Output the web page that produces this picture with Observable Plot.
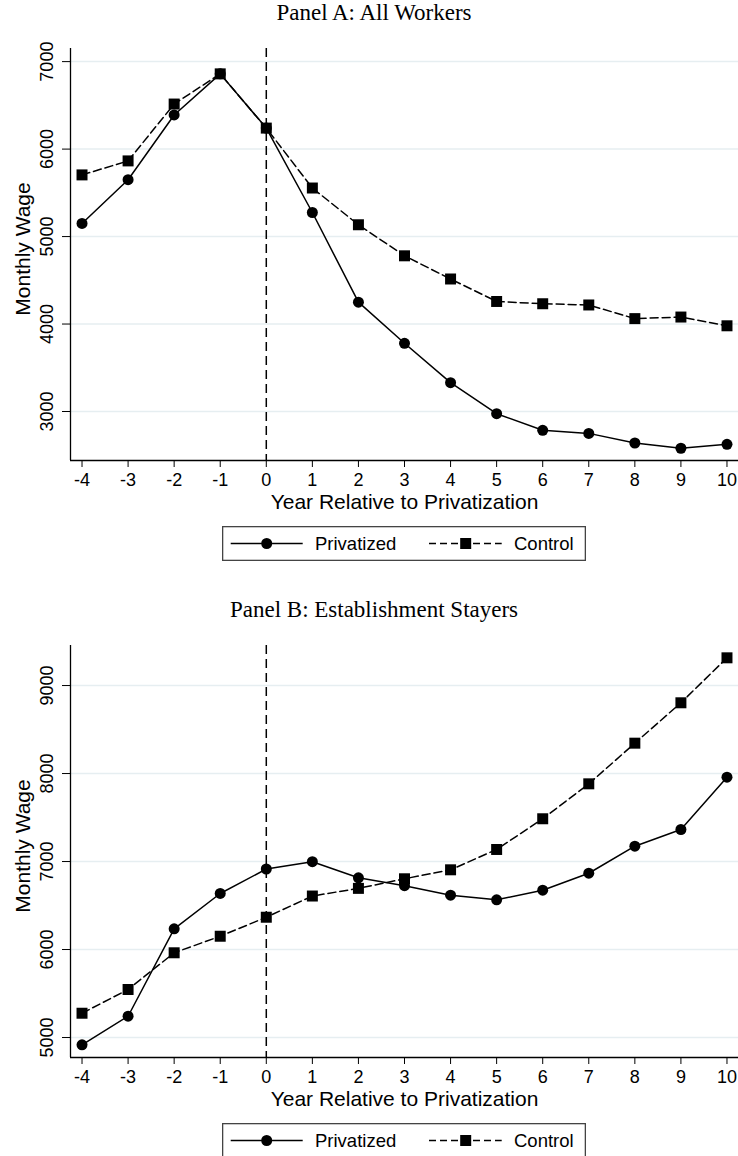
<!DOCTYPE html>
<html>
<head>
<meta charset="utf-8">
<script src="https://cdn.jsdelivr.net/npm/d3@7"></script>
<script src="https://cdn.jsdelivr.net/npm/@observablehq/plot@0.6"></script>
<style>
  html, body { margin: 0; padding: 0; background: #fff; }
  #page { position: relative; width: 738px; height: 1156px; overflow: hidden; background: #fff; }
  .panel { position: absolute; left: 0; width: 738px; height: 597px; }
  .title { position: absolute; left: 0; top: 0; width: 748px; text-align: center;
           font-family: "Liberation Serif", "Times New Roman", serif; font-size: 23px;
           line-height: 26px; color: #000; }
  .chart { position: absolute; left: 0; top: 26px; }
  .legend { position: absolute; left: 222px; top: 526px; }
</style>
</head>
<body>
<div id="page"></div>
<script>
// Years relative to privatization
const years = [-4, -3, -2, -1, 0, 1, 2, 3, 4, 5, 6, 7, 8, 9, 10];

// Panel A: all workers, mean monthly wage
const allPrivatized = [5150, 5650, 6390, 6860, 6240, 5275, 4250, 3780, 3330, 2975, 2785, 2750, 2640, 2580, 2625];
const allControl    = [5705, 5865, 6515, 6860, 6240, 5555, 5135, 4780, 4515, 4258, 4232, 4218, 4062, 4080, 3980];

// Panel B: establishment stayers, mean monthly wage
const stayPrivatized = [4917, 5242, 6235, 6637, 6915, 6998, 6815, 6725, 6617, 6565, 6674, 6867, 7174, 7364, 7958];
const stayControl    = [5276, 5546, 5963, 6151, 6367, 6608, 6695, 6804, 6906, 7137, 7486, 7883, 8345, 8804, 9315];

const panelTitles = ["Panel A: All Workers", "Panel B: Establishment Stayers"];
const seriesNames = ["Privatized", "Control"];
const xLabel = "Year Relative to Privatization";
const yLabel = "Monthly Wage";

const xTicks = years;
const allTicksY = [3000, 4000, 5000, 6000, 7000];
const stayTicksY = [5000, 6000, 7000, 8000, 9000];
const xDomain = [-4.25, 10.25];
const allDomainY = [2440, 7150];
const stayDomainY = [4773, 9455];

const panels = [
  { title: panelTitles[0], priv: allPrivatized, ctrl: allControl, ticks: allTicksY, domain: allDomainY },
  { title: panelTitles[1], priv: stayPrivatized, ctrl: stayControl, ticks: stayTicksY, domain: stayDomainY }
];

const FONT = '"Liberation Sans", Arial, Helvetica, sans-serif';
const page = document.getElementById("page");

function drawPanel(p, top) {
  const panel = document.createElement("div");
  panel.className = "panel";
  panel.style.top = top + "px";
  page.appendChild(panel);

  const title = document.createElement("div");
  title.className = "title";
  title.textContent = p.title;
  panel.appendChild(title);

  const rows = years.map((yr, i) => ({ year: yr, priv: p.priv[i], ctrl: p.ctrl[i] }));

  const chart = Plot.plot({
    width: 738,
    height: 489,
    marginTop: 22,
    marginBottom: 55,
    marginLeft: 70,
    marginRight: 0,
    style: { fontFamily: FONT, fontSize: "18px", background: "#fff", color: "#000", overflow: "visible" },
    x: { domain: xDomain },
    y: { domain: p.domain },
    marks: [
      Plot.gridY(p.ticks, { stroke: "#e6eef1", strokeOpacity: 1, strokeWidth: 1.5 }),
      Plot.ruleX([xDomain[0]], { stroke: "#000", strokeWidth: 1.3 }),
      Plot.ruleY([p.domain[0]], { stroke: "#000", strokeWidth: 1.3 }),
      Plot.ruleX([0], { stroke: "#000", strokeWidth: 1.5, strokeDasharray: "9,5" }),
      Plot.axisX({ ticks: xTicks, tickSize: 7, tickPadding: 6, tickFormat: d => String(d),
                   label: null, fontSize: 18, stroke: "#000" }),
      Plot.axisY({ ticks: p.ticks, tickSize: 8, tickPadding: 10, tickRotate: -90,
                   tickFormat: d => String(d), label: null, fontSize: 18, stroke: "#000" }),
      Plot.line(rows, { x: "year", y: "ctrl", stroke: "#000", strokeWidth: 1.5, strokeDasharray: "8,4" }),
      Plot.line(rows, { x: "year", y: "priv", stroke: "#000", strokeWidth: 1.5 }),
      Plot.dot(rows, { x: "year", y: "ctrl", symbol: "square", r: 6.2, fill: "#000" }),
      Plot.dot(rows, { x: "year", y: "priv", symbol: "circle", r: 5.5, fill: "#000" }),
      Plot.text([xLabel], { frameAnchor: "bottom", textAnchor: "middle", lineAnchor: "middle",
                            dy: 41.6, fontSize: 21, fill: "#000" }),
      Plot.text([yLabel], { frameAnchor: "left", textAnchor: "middle", lineAnchor: "middle",
                            dx: -47.5, dy: -5.5, rotate: -90, fontSize: 21, fill: "#000" })
    ]
  });
  chart.classList.add("chart");
  panel.appendChild(chart);

  // Legend box below the chart
  const holder = document.createElement("div");
  holder.className = "legend";
  panel.appendChild(holder);
  const W = 364, H = 35, cy = 17.5;
  const svg = d3.select(holder).append("svg").attr("width", W).attr("height", H)
    .style("display", "block");
  svg.append("rect").attr("x", 0.65).attr("y", 0.65).attr("width", W - 1.3).attr("height", H - 1.3)
    .attr("fill", "#fff").attr("stroke", "#444").attr("stroke-width", 1.3);
  // Privatized key
  svg.append("line").attr("x1", 8.7).attr("x2", 80.7).attr("y1", cy).attr("y2", cy)
    .attr("stroke", "#000").attr("stroke-width", 1.5);
  svg.append("circle").attr("cx", 44.7).attr("cy", cy).attr("r", 5.5).attr("fill", "#000");
  svg.append("text").attr("x", 93).attr("y", cy).attr("dy", "0.35em")
    .attr("font-family", FONT).attr("font-size", 18.5).text(seriesNames[0]);
  // Control key
  svg.append("line").attr("x1", 207).attr("x2", 279.7).attr("y1", cy).attr("y2", cy)
    .attr("stroke", "#000").attr("stroke-width", 1.5).attr("stroke-dasharray", "7,4");
  svg.append("rect").attr("x", 243.7 - 5.5).attr("y", cy - 5.5).attr("width", 11).attr("height", 11)
    .attr("fill", "#000");
  svg.append("text").attr("x", 292).attr("y", cy).attr("dy", "0.35em")
    .attr("font-family", FONT).attr("font-size", 18.5).text(seriesNames[1]);
}

drawPanel(panels[0], 0);
drawPanel(panels[1], 597);
</script>
</body>
</html>
